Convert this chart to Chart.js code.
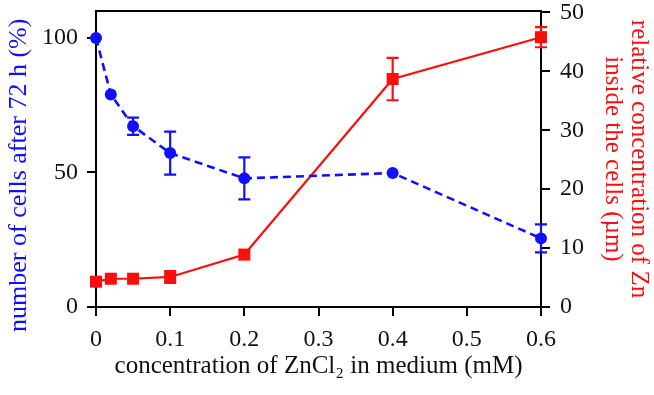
<!DOCTYPE html>
<html>
<head>
<meta charset="utf-8">
<script src="https://cdn.jsdelivr.net/npm/chart.js@4/dist/chart.umd.min.js"></script>
<style>
  html, body { margin: 0; padding: 0; background: #fff; }
  #wrap { width: 654px; height: 395px; }
</style>
</head>
<body>
<div id="wrap"><canvas id="c"></canvas></div>
<script>
// data
const concentrations = [0, 0.02, 0.05, 0.1, 0.2, 0.4, 0.6];
const cellsPct = [100, 79, 67.2, 57.2, 47.8, 49.8, 25.5];
const cellsErr = [0, 0, 3.2, 8, 7.8, 0, 5.2];
const znInside = [4.3, 4.8, 4.8, 5.1, 8.9, 38.7, 45.8];
const znErr = [0, 0, 0, 1, 0, 3.6, 1.7];
const xTicks = [0, 0.1, 0.2, 0.3, 0.4, 0.5, 0.6];
const leftTicks = [0, 50, 100];
const rightTicks = [0, 10, 20, 30, 40, 50];

const BLUE = '#1010ff';
const RED = '#ff0d0d';
const FONT = "'Liberation Serif', 'DejaVu Serif', serif";

// error bars + top frame line
const errorBars = {
    id: 'errorBars',
    afterDatasetsDraw(chart) {
        const ctx = chart.ctx;
        const x = chart.scales.x;
        chart.data.datasets.forEach(ds => {
            if (!ds.errors) return;
            const y = chart.scales[ds.yAxisID];
            ctx.save();
            ctx.strokeStyle = ds.borderColor;
            ctx.lineWidth = 2.2;
            ds.data.forEach((p, i) => {
                const e = ds.errors[i];
                if (!e) return;
                const px = x.getPixelForValue(p.x);
                const top = y.getPixelForValue(p.y + e);
                const bot = y.getPixelForValue(p.y - e);
                ctx.beginPath();
                ctx.moveTo(px, top); ctx.lineTo(px, bot);
                ctx.moveTo(px - 6, top); ctx.lineTo(px + 6, top);
                ctx.moveTo(px - 6, bot); ctx.lineTo(px + 6, bot);
                ctx.stroke();
            });
            ctx.restore();
        });
    },
    beforeDatasetsDraw(chart) {
        const a = chart.chartArea, ctx = chart.ctx;
        ctx.save();
        ctx.strokeStyle = '#000';
        ctx.lineWidth = 2;
        ctx.beginPath();
        ctx.moveTo(a.left, a.top); ctx.lineTo(a.right, a.top);
        ctx.stroke();
        ctx.restore();
    }
};

const gridOpts = { drawOnChartArea: false, drawTicks: true, tickLength: 9, color: '#000', lineWidth: 2 };

new Chart(document.getElementById('c'), {
    type: 'line',
    data: {
        datasets: [
            {
                label: 'cells',
                data: concentrations.map((c, i) => ({ x: c, y: cellsPct[i] })),
                errors: cellsErr,
                yAxisID: 'y',
                borderColor: BLUE,
                backgroundColor: BLUE,
                borderWidth: 2.6,
                borderDash: [8, 5],
                pointStyle: 'circle',
                pointRadius: 6,
                pointBorderWidth: 0,
                clip: false
            },
            {
                label: 'zn',
                data: concentrations.map((c, i) => ({ x: c, y: znInside[i] })),
                errors: znErr,
                yAxisID: 'y2',
                borderColor: RED,
                backgroundColor: RED,
                borderWidth: 2.2,
                pointStyle: 'rect',
                pointRadius: 8.5,
                pointBorderWidth: 0,
                clip: false
            }
        ]
    },
    plugins: [errorBars],
    options: {
        responsive: true,
        maintainAspectRatio: false,
        animation: false,
        layout: { padding: { top: 11, left: 0, right: 0, bottom: 0 } },
        plugins: { legend: { display: false }, tooltip: { enabled: false } },
        scales: {
            x: {
                type: 'linear', min: 0, max: 0.6,
                afterBuildTicks: s => { s.ticks = xTicks.map(v => ({ value: v })); },
                afterFit: s => { s.height = 88; },
                border: { color: '#000', width: 2 },
                grid: gridOpts,
                ticks: { color: '#111', font: { family: FONT, size: 24 }, padding: 9, maxRotation: 0 },
                title: {
                    display: true, text: 'concentration of ZnCl\u2082 in medium (mM)',
                    color: '#111', font: { family: FONT, size: 25 }, padding: { top: 0, bottom: 14 }
                }
            },
            y: {
                position: 'left', min: 0, max: 110,
                afterBuildTicks: s => { s.ticks = leftTicks.map(v => ({ value: v })); },
                afterFit: s => { s.width = 96; },
                border: { color: '#000', width: 2 },
                grid: gridOpts,
                ticks: { color: '#111', font: { family: FONT, size: 24, lineHeight: 0.01 }, padding: 9 },
                title: {
                    display: true, text: 'number of cells after 72 h (%)\u00a0\u00a0\u00a0\u00a0\u00a0',
                    color: BLUE, font: { family: FONT, size: 26 }, padding: { top: 4 }
                }
            },
            y2: {
                position: 'right', min: 0, max: 50.25,
                afterBuildTicks: s => { s.ticks = rightTicks.map(v => ({ value: v })); },
                afterFit: s => { s.width = 113; },
                border: { color: '#000', width: 2 },
                grid: gridOpts,
                ticks: { color: '#111', font: { family: FONT, size: 24, lineHeight: 0.01 }, padding: 10 },
                title: {
                    display: true, text: ['relative concentration of Zn', 'inside the cells (\u00b5m)'],
                    color: RED, font: { family: FONT, size: 25, lineHeight: 1.05 }, padding: { top: 2 }
                }
            }
        }
    }
});
</script>
</body>
</html>
